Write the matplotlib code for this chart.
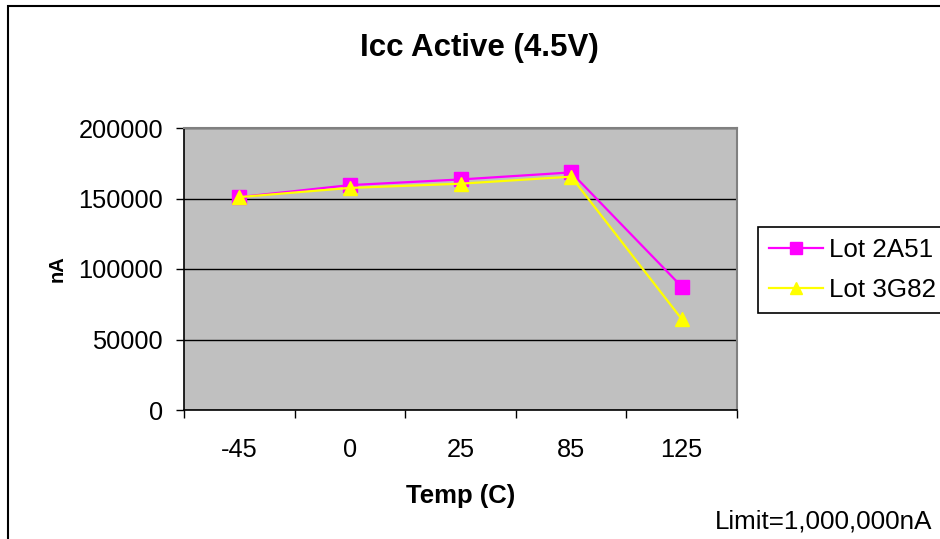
# Icc active current vs temperature for two lots
import matplotlib
matplotlib.use("Agg")
import matplotlib.pyplot as plt
from matplotlib.patches import Rectangle

temps = ["-45", "0", "25", "85", "125"]
lot_2a51 = [151000, 159500, 163500, 168500, 87500]
lot_3g82 = [151000, 157500, 160500, 165500, 64500]
y_ticks = [0, 50000, 100000, 150000, 200000]

plt.rcParams["font.family"] = ["Liberation Sans", "DejaVu Sans"]

fig = plt.figure(figsize=(9.4, 5.39), dpi=100)
ax = fig.add_axes([184 / 940, 1 - 410 / 539, (737 - 184) / 940, (410 - 128) / 539])
ax.set_facecolor("#C0C0C0")

x = range(len(temps))
ax.plot(x, lot_2a51, color="#FF00FF", lw=1.6, marker="s", ms=9.5,
        mec="#FF00FF", label="Lot 2A51", zorder=3)
ax.plot(x, lot_3g82, color="#FFFF00", lw=1.6, marker="^", ms=10,
        mec="#FFFF00", label="Lot 3G82", zorder=4)

ax.set_ylim(0, 200000)
ax.set_yticks(y_ticks)
ax.set_yticklabels([str(v) for v in y_ticks], fontsize=18.3)
ax.yaxis.grid(True, color="black", lw=1)
ax.set_axisbelow(True)

# category boundaries carry the ticks, the labels sit between them
ax.set_xlim(-0.5, len(temps) - 0.5)
ax.set_xticks([i - 0.5 for i in range(len(temps) + 1)])
ax.set_xticklabels([])
ax.set_xticks(list(x), minor=True)
ax.set_xticklabels(temps, minor=True, fontsize=18.3)
ax.tick_params(axis="x", which="minor", length=0, pad=20)
ax.tick_params(axis="both", which="major", direction="out", length=6, width=1, color="black")
ax.tick_params(axis="y", pad=9)

for side in ("top", "right"):
    ax.spines[side].set_color("#808080")
    ax.spines[side].set_linewidth(1.5)
for side in ("left", "bottom"):
    ax.spines[side].set_color("black")
    ax.spines[side].set_linewidth(1.2)

ax.set_xlabel("Temp (C)", fontsize=18.5, fontweight="bold")
ax.xaxis.set_label_coords(0.5, -0.262)
ax.set_ylabel("nA", fontsize=14.5, fontweight="bold")
ax.yaxis.set_label_coords(-0.213, 0.5)

fig.text(479 / 940, 1 - 48 / 539, "Icc Active (4.5V)", fontsize=22.5,
         fontweight="bold", ha="center", va="center")
fig.text(932 / 940, 1 - 522 / 539, "Limit=1,000,000nA", fontsize=18.7,
         ha="right", va="center")

leg = fig.legend(loc="upper left", bbox_to_anchor=(758 / 940, 1 - 227 / 539),
                 fontsize=18.7, frameon=True, fancybox=False, edgecolor="black",
                 framealpha=1, borderaxespad=0, handlelength=2.1,
                 handletextpad=0.2, borderpad=0.42, labelspacing=0.62,
                 markerscale=0.85)
leg.get_frame().set_linewidth(1.2)

fig.patches.append(Rectangle((8 / 940, -0.1), 1.2, 1 - 6 / 539 + 0.1,
                             transform=fig.transFigure, fill=False,
                             edgecolor="black", lw=1.5))

fig.savefig("out.png", dpi=100)
